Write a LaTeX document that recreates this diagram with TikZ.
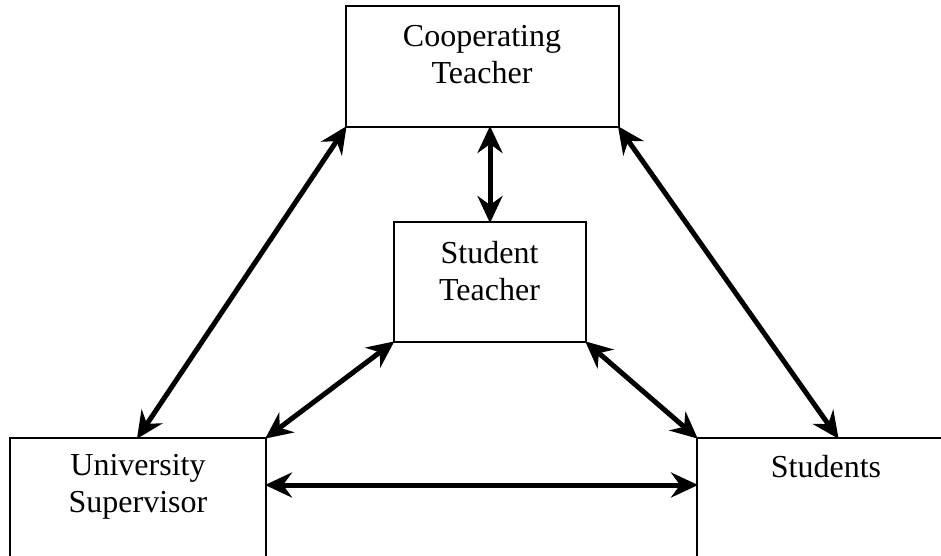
\documentclass[tikz,border=0pt]{standalone}
\usepackage{fontspec}
\setmainfont{Liberation Serif}
\usetikzlibrary{arrows.meta}
\begin{document}
\begin{tikzpicture}[x=1pt,y=-1pt,
  box/.style={draw=black,line width=2pt,fill=none},
  lbl/.style={font=\fontsize{32}{37}\selectfont,align=center,inner sep=0pt},
  tip/.style={Stealth[length=27pt,width=25pt,inset=9pt]},
  link/.style={line width=5pt,{Stealth[length=27pt,width=25pt,inset=9pt]}-{Stealth[length=27pt,width=25pt,inset=9pt]},shorten <=-1pt,shorten >=-1pt}]
\useasboundingbox (0,0) rectangle (941,556);
\clip (0,0) rectangle (941,556);
% boxes
\draw[box] (346,6) rectangle (618.5,127);
\coordinate (ctsw) at (346,127);
\coordinate (ctse) at (618.5,127);
\draw[box] (393.5,222) rectangle (586,342);
\coordinate (stn) at (490,222);
\coordinate (stsw) at (393.5,342);
\coordinate (stse) at (586,342);
\draw[box] (9.5,438) rectangle (266,600);
\coordinate (usn) at (137.5,438);
\coordinate (usne) at (266,438);
\coordinate (use) at (266,485);
\draw[box] (697,438) rectangle (960,600);
\coordinate (sdn) at (838,438);
\coordinate (sdnw) at (697,438);
\coordinate (sdw) at (697,485);
\coordinate (ctsm) at (490,127);
% labels
\node[lbl] (ct) at (482,55) {Cooperating\\Teacher};
\node[lbl] (st) at (489.5,271) {Student\\Teacher};
\node[lbl] (us) at (138,487) {University\\Supervisor};
\node[lbl] (sd) at (826,467) {Students};
% connectors
\draw[link] (ctsw) -- (usn);
\draw[link] (ctse) -- (sdn);
\draw[link] (ctsm) -- (stn);
\draw[link] (stsw) -- (usne);
\draw[link] (stse) -- (sdnw);
\draw[link] (use) -- (sdw);
\end{tikzpicture}
\end{document}
